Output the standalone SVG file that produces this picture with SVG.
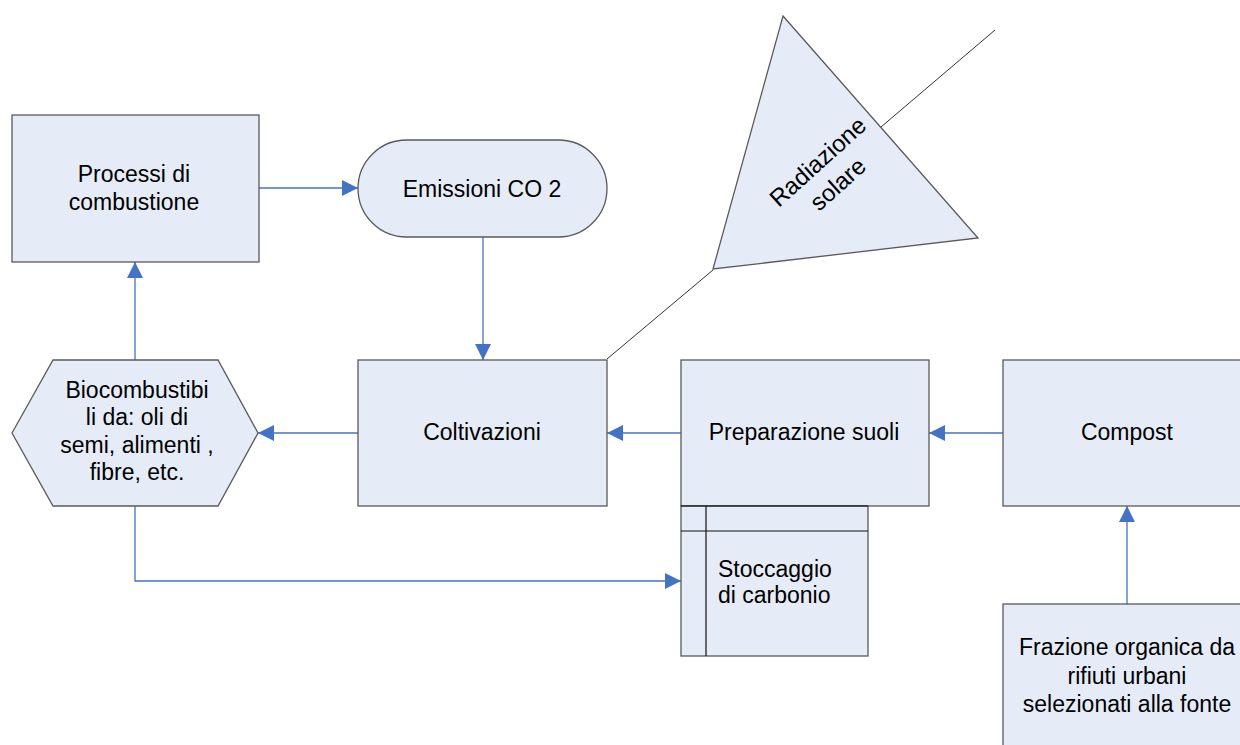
<svg xmlns="http://www.w3.org/2000/svg" width="1240" height="745" viewBox="0 0 1240 745">
<style>
.node{fill:#E6ECF7;stroke:#5a5a5a;stroke-width:1.3}
.inner{stroke:#111;stroke-width:1.2;fill:none}
.t{font-family:"Liberation Sans",Arial,sans-serif;font-size:23px;fill:#000;text-anchor:middle}
.tl{font-family:"Liberation Sans",Arial,sans-serif;font-size:23px;fill:#000}
.c{stroke:#4472C4;stroke-width:1.3;fill:none}
.k{stroke:#333;stroke-width:1;fill:none}
</style>
<defs>
<marker id="arr" viewBox="0 0 16 16" refX="16" refY="8" markerWidth="16" markerHeight="16" markerUnits="userSpaceOnUse" orient="auto">
<path d="M0,0 L16,8 L0,16 Z" fill="#4472C4"/>
</marker>
</defs>
<rect width="1240" height="745" fill="#fff"/>
<g id="connectors">
<line class="c" x1="259" y1="188" x2="358" y2="188" marker-end="url(#arr)"/>
<line class="c" x1="483" y1="237" x2="483" y2="360" marker-end="url(#arr)"/>
<line class="c" x1="358" y1="433" x2="258" y2="433" marker-end="url(#arr)"/>
<line class="c" x1="681" y1="433" x2="607" y2="433" marker-end="url(#arr)"/>
<line class="c" x1="1003" y1="433" x2="929" y2="433" marker-end="url(#arr)"/>
<line class="c" x1="135" y1="360" x2="135" y2="262" marker-end="url(#arr)"/>
<polyline class="c" points="135,506 135,581 681,581" marker-end="url(#arr)"/>
<line class="c" x1="1127" y1="604" x2="1127" y2="506" marker-end="url(#arr)"/>
<line class="k" x1="607" y1="359" x2="713" y2="270"/>
<line class="k" x1="881" y1="127" x2="995" y2="30"/>
</g>
<g id="processi">
<rect class="node" x="12" y="115" width="247" height="147"/>
<text class="t" x="134" y="182">Processi di</text>
<text class="t" x="134" y="210">combustione</text>
</g>
<g id="emissioni">
<rect class="node" x="358" y="140" width="249" height="97" rx="48.5" ry="48.5"/>
<text class="t" x="482" y="197">Emissioni CO 2</text>
</g>
<g id="radiazione">
<polygon class="node" points="783,16 978,238 713,269"/>
<g transform="rotate(-42 828 173)">
<text class="t" x="828" y="166" style="font-size:24px">Radiazione</text>
<text class="t" x="828" y="196" style="font-size:24px">solare</text>
</g>
</g>
<g id="biocombustibili">
<polygon class="node" points="12,433 53,360 218,360 258,433 218,506 53,506"/>
<text class="t" x="137" y="398">Biocombustibi</text>
<text class="t" x="137" y="425">li da: oli di</text>
<text class="t" x="137" y="453">semi, alimenti ,</text>
<text class="t" x="137" y="480">fibre, etc.</text>
</g>
<g id="coltivazioni">
<rect class="node" x="358" y="360" width="249" height="146"/>
<text class="t" x="482" y="440">Coltivazioni</text>
</g>
<g id="preparazione">
<rect class="node" x="681" y="360" width="248" height="146"/>
<text class="t" x="804" y="440">Preparazione suoli</text>
</g>
<g id="stoccaggio">
<rect class="node" x="681" y="506" width="187" height="150"/>
<line class="inner" x1="681" y1="531" x2="868" y2="531"/>
<line class="inner" x1="706" y1="506" x2="706" y2="656"/>
<line class="inner" x1="681" y1="506" x2="868" y2="506"/>
<text class="tl" x="718" y="577">Stoccaggio</text>
<text class="tl" x="718" y="603">di carbonio</text>
</g>
<g id="compost">
<rect class="node" x="1003" y="360" width="240" height="146"/>
<text class="t" x="1127" y="440">Compost</text>
</g>
<g id="frazione">
<rect class="node" x="1003" y="604" width="240" height="150"/>
<text class="t" x="1127" y="655">Frazione organica da</text>
<text class="t" x="1127" y="684">rifiuti urbani</text>
<text class="t" x="1127" y="712">selezionati alla fonte</text>
</g>
</svg>
